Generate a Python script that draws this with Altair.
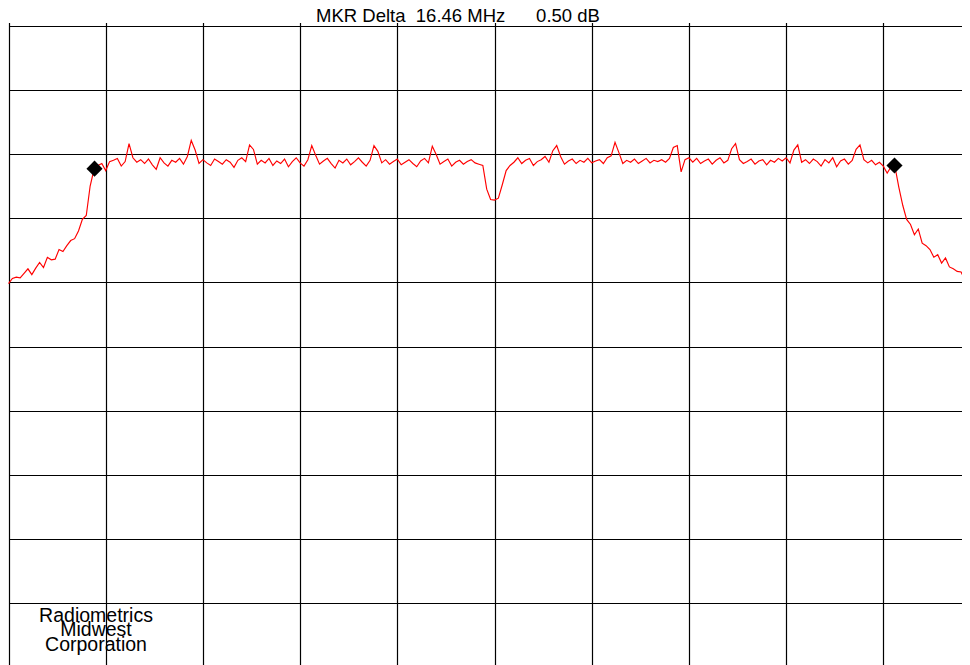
import altair as alt
import pandas as pd

# Spectrum analyzer sweep: 251 points, 0.08 MHz apart, 20 MHz span
STEP_MHZ = 0.08
trace_db = [
    -40.2, -39.4, -39.2, -39.3, -38.6, -37.9, -38.8, -37.8, -36.9, -37.7,
    -36.1, -36.5, -36.4, -34.9, -35.2, -34.3, -33.5, -33.2, -32.0, -30.2,
    -29.6, -25.0, -22.4, -21.8, -21.5, -22.6, -21.2, -21.0, -20.7, -21.9,
    -21.2, -18.4, -20.6, -21.3, -20.9, -21.5, -20.8, -21.7, -22.4, -20.6,
    -21.4, -21.9, -21.0, -21.3, -20.7, -21.6, -20.4, -17.9, -19.4, -21.5,
    -20.9, -21.4, -21.8, -20.8, -21.2, -21.6, -20.9, -21.3, -22.1, -21.0,
    -20.6, -21.2, -18.6, -19.3, -21.6, -21.0, -21.4, -20.7, -21.8, -21.1,
    -21.5, -20.8, -22.0, -21.2, -20.6, -21.4, -21.9, -20.9, -18.7, -20.2,
    -21.6, -21.1, -20.7, -21.5, -22.2, -21.0, -21.4, -20.8, -21.7, -21.2,
    -20.6, -21.3, -21.9, -21.0, -18.7, -19.6, -21.4, -20.9, -21.6, -21.2,
    -20.8, -21.7, -21.3, -20.9, -21.5, -22.0, -21.1, -20.7, -21.4, -18.8,
    -20.1, -21.6, -21.2, -20.8, -21.9, -21.3, -21.0, -21.6, -21.2, -20.9,
    -21.4, -21.6, -21.8, -25.5, -27.1, -27.2, -26.9, -24.8, -22.6, -21.8,
    -21.3, -20.6, -21.5, -21.0, -20.7, -21.8, -21.2, -20.9, -20.4, -21.3,
    -19.5, -18.7, -20.4, -21.6, -21.1, -20.8, -21.5, -21.0, -21.3, -20.7,
    -21.4, -21.1, -20.9, -21.5, -20.6, -20.3, -18.2, -19.8, -21.5, -21.0,
    -21.3, -20.8, -21.5, -21.1, -20.7, -21.4, -21.0, -21.2, -20.9, -21.3,
    -20.7, -19.0, -18.7, -22.8, -20.9, -20.6, -21.3, -20.7, -21.5, -21.1,
    -20.8, -21.6, -21.0, -20.6, -21.4, -21.0, -19.2, -18.4, -20.9, -21.5,
    -21.2, -20.8, -21.6, -21.1, -20.9, -21.7, -21.0, -21.3, -20.7, -21.1,
    -20.6, -21.4, -19.4, -18.6, -21.3, -20.9, -21.5, -20.8, -21.2, -21.9,
    -20.9, -21.4, -20.6, -22.0, -21.1, -20.8, -21.6, -21.0, -19.3, -18.6,
    -20.9, -21.4, -21.0, -21.7, -21.3, -21.9, -23.0, -22.0, -22.0, -25.2,
    -28.0, -30.2, -31.0, -32.6, -31.7, -33.9, -34.3, -34.9, -36.1, -35.7,
    -37.0, -36.2, -37.6, -37.9, -38.3, -38.4, -39.6, -38.6, -39.3, -39.8,
    -40.0,
]
marker_freq = [1.77, 18.23]
marker_db = [-22.3, -21.8]
x_grid = [0, 2, 4, 6, 8, 10, 12, 14, 16, 18, 20]
y_grid = [-100, -90, -80, -70, -60, -50, -40, -30, -20, -10, 0]
title_text = "MKR Delta\u00a0\u00a016.46 MHz\u00a0\u00a0\u00a0\u00a0\u00a0\u00a00.50 dB"
company_text = "Radiometrics\n\u00a0Midwest\nCorporation"

trace = pd.DataFrame({
    "freq": [i * STEP_MHZ for i in range(len(trace_db))],
    "level": trace_db,
})
markers = pd.DataFrame({"freq": marker_freq, "level": marker_db})

# the analyzer screen is wider/taller than the window: scale ranges run past the view
x_enc = alt.X("freq:Q",
              scale=alt.Scale(domain=[0, 20], nice=False, zero=False, range=[0.5, 972.5]),
              axis=alt.Axis(values=x_grid, grid=True, labels=False, ticks=False,
                            domain=False, title=None))
y_enc = alt.Y("level:Q",
              scale=alt.Scale(domain=[-100, 0], nice=False, zero=False, range=[642.5, 0.5]),
              axis=alt.Axis(values=y_grid, grid=True, labels=False, ticks=False,
                            domain=False, title=None))

line = alt.Chart(trace).mark_line(color="#ff0000", strokeWidth=1.15).encode(
    x=x_enc, y=y_enc
)

pts = alt.Chart(markers).mark_point(shape="diamond", filled=True, color="black",
                                    size=260, opacity=1).encode(
    x="freq:Q", y="level:Q"
)

title = alt.Chart(pd.DataFrame({"t": [title_text]})).mark_text(
    font="Liberation Sans", fontSize=18.5, color="black", align="center",
    baseline="alphabetic"
).encode(x=alt.value(450), y=alt.value(-3.5), text="t:N")

company = alt.Chart(pd.DataFrame({"t": [company_text]})).mark_text(
    font="Liberation Sans", fontSize=19.5, color="black", align="center",
    baseline="alphabetic", lineBreak="\n", lineHeight=14.3
).encode(x=alt.value(88), y=alt.value(597), text="t:N")

chart = alt.layer(line, pts, title, company).properties(
    width=954, height=640,
    padding={"left": 0, "top": 17, "right": 0, "bottom": 0},
    autosize=alt.AutoSizeParams(type="none"),
).configure_view(
    stroke="transparent", strokeWidth=0
).configure_axis(
    gridColor="black", gridOpacity=1, gridWidth=1.2
)

chart.save("out.html", embed_options={"renderer": "svg", "actions": False})
